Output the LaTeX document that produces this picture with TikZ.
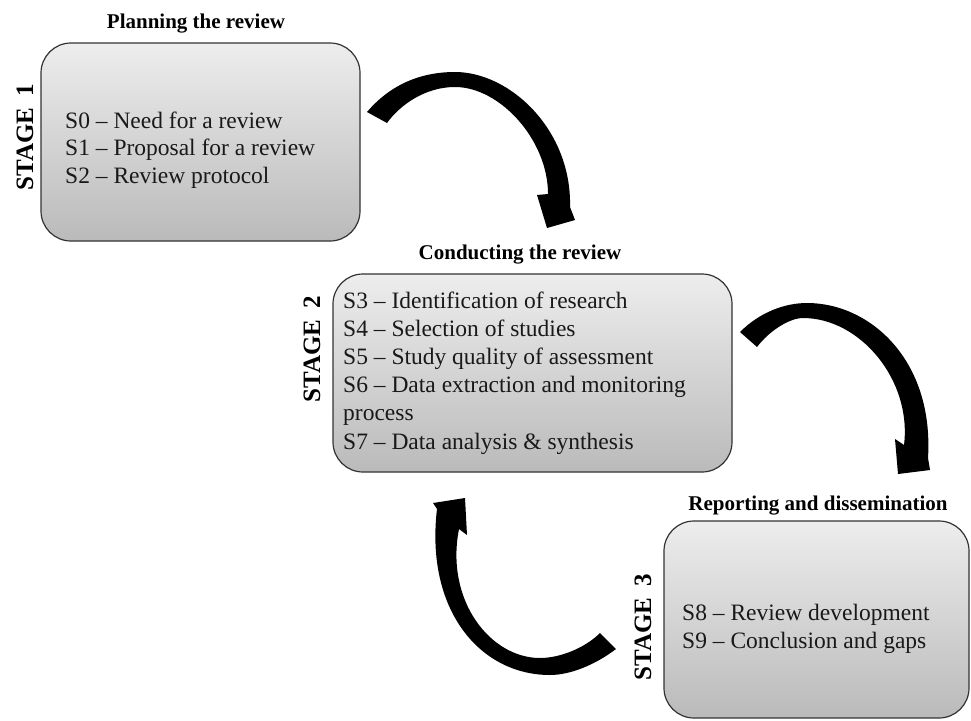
\documentclass[tikz,border=0pt]{standalone}
\usepackage{fontspec}
\setmainfont{Liberation Serif}
\begin{document}
\begin{tikzpicture}[x=1pt,y=-1pt,
  stagebox/.style={draw=black!80, line width=1.2pt, rounded corners=30pt,
    top color=black!7, bottom color=black!27, inner sep=0pt},
  title/.style={font=\fontsize{21}{25}\selectfont\bfseries, anchor=base, inner sep=0pt},
  item/.style={font=\fontsize{23.5}{27.5}\selectfont, anchor=base west, inner sep=0pt, text=black!90},
  stagelabel/.style={font=\fontsize{25}{30}\selectfont\bfseries, rotate=90, inner sep=0pt},
  bentarrow/.style={fill=black}]
\useasboundingbox (0,0) rectangle (971,720);

% stage boxes
\node[stagebox, minimum width=319pt, minimum height=198pt] (box1) at (200.5,142) {};
\node[stagebox, minimum width=399pt, minimum height=198pt] (box2) at (532.5,373) {};
\node[stagebox, minimum width=305pt, minimum height=197pt] (box3) at (816.5,619.5) {};

% titles
\node[title] (t1) at (196,28) {Planning the review};
\node[title] (t2) at (520,259) {Conducting the review};
\node[title] (t3) at (818,510) {Reporting and dissemination};

% stage labels
\node[stagelabel] (s1) at (25,137) {STAGE\hspace{0.45em}1};
\node[stagelabel] (s2) at (312,349) {STAGE\hspace{0.45em}2};
\node[stagelabel] (s3) at (643,627) {STAGE\hspace{0.45em}3};

% steps of stage 1
\node[item] (i0) at (65,128) {S0 -- Need for a review};
\node[item] (i1) at (65,155.5) {S1 -- Proposal for a review};
\node[item] (i2) at (65,183) {S2 -- Review protocol};

% steps of stage 2
\node[item] (i3) at (343,308) {S3 -- Identification of research};
\node[item] (i4) at (343,336) {S4 -- Selection of studies};
\node[item] (i5) at (343,364) {S5 -- Study quality of assessment};
\node[item] (i6) at (343,392) {S6 -- Data extraction and monitoring};
\node[item] (i6b) at (343,420) {process};
\node[item] (i7) at (343,449) {S7 -- Data analysis \& synthesis};

% steps of stage 3
\node[item] (i8) at (682,620) {S8 -- Review development};
\node[item] (i9) at (682,648) {S9 -- Conclusion and gaps};

% curved block arrow from stage 1 to stage 2
\fill[bentarrow] (367,112) .. controls (390,85) and (420,72) .. (455,72)
  .. controls (510,72) and (572,130) .. (570,207)
  -- (575,220) -- (547,228) -- (537,195) -- (548,194)
  .. controls (548,140) and (500,87) .. (455,87)
  .. controls (425,87) and (400,105) .. (387,123) -- cycle;

% curved block arrow from stage 2 to stage 3
\fill[bentarrow] (740,332) .. controls (760,312) and (785,303) .. (807,303)
  .. controls (870,303) and (934,360) .. (928,458)
  -- (930,470) -- (898,474) -- (895,439) -- (904,445)
  .. controls (912,380) and (860,318) .. (803,318)
  .. controls (790,318) and (770,330) .. (757,347) -- cycle;

% curved block arrow from stage 3 back to stage 2
\fill[bentarrow] (616,649) .. controls (595,665) and (570,675) .. (550,675)
  .. controls (480,675) and (425,610) .. (437,509)
  -- (433,503) -- (465,498) -- (467,535) -- (459,529)
  .. controls (445,600) and (490,658) .. (540,658)
  .. controls (560,658) and (585,648) .. (600,633) -- cycle;
\end{tikzpicture}
\end{document}
